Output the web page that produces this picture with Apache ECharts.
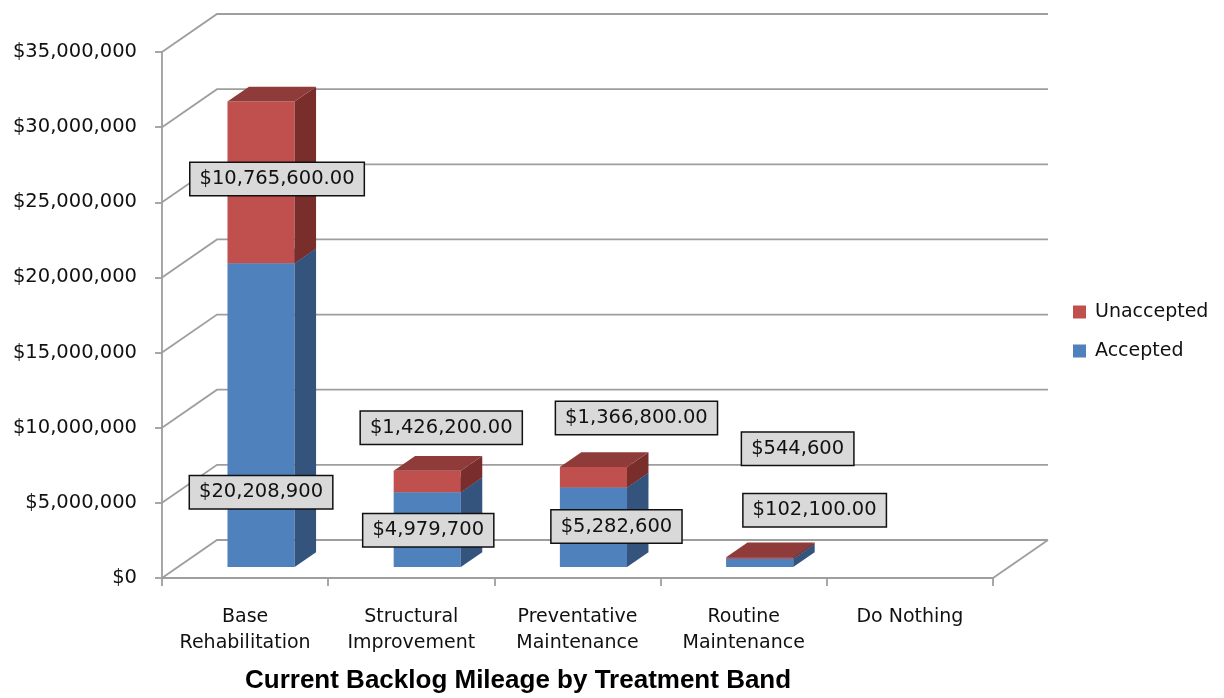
<!DOCTYPE html>
<html>
<head>
<meta charset="utf-8">
<script src="https://cdn.jsdelivr.net/npm/echarts@6/dist/echarts.min.js"></script>
<style>
  html, body { margin: 0; padding: 0; background: #ffffff; }
  #chart { width: 1224px; height: 698px; }
</style>
</head>
<body>
<div id="chart"></div>
<script>
// ---- data ----
const categories = ['Base\nRehabilitation', 'Structural\nImprovement', 'Preventative\nMaintenance', 'Routine\nMaintenance', 'Do Nothing'];
const accepted = [20208900, 4979700, 5282600, 544600, 0];
const unaccepted = [10765600, 1426200, 1366800, 102100, 0];
const yTicks = [0, 5000000, 10000000, 15000000, 20000000, 25000000, 30000000, 35000000];
const seriesNames = ['Unaccepted', 'Accepted'];
const chartTitle = 'Current Backlog Mileage by Treatment Band';

// ---- layout / style ----
const DEPTH = [55, -38];            // projection of the chart depth (px)
const BAR_FRONT = 0.29;             // bar front face position within depth
const BAR_BACK = 0.68;              // bar back face position within depth
const BAR_WIDTH = 0.404;            // bar width as share of category band
const acceptedLabelOffset = [[0, 229], [1, 38], [23, 39], [38, -110], null];
const unacceptedLabelOffset = [[16, 77.5], [14, -43], [43, -49], [55, -47], null];
const blue = { front: '#4F81BD', side: '#34547D', top: '#3E6699' };
const red = { front: '#C0504D', side: '#7A2E2C', top: '#8F3B39' };
const gridColor = '#9E9E9E';
const textColor = '#111111';
const textFont = '"DejaVu Sans", Verdana, sans-serif';

function withCommas(v) {
  return String(Math.round(v)).replace(/\B(?=(\d{3})+(?!\d))/g, ',');
}
const fmtWhole = v => '$' + withCommas(v);
const fmtCents = v => '$' + withCommas(v) + '.00';

function depthPoint(x, y, f) {
  return [x + DEPTH[0] * f, y + DEPTH[1] * f];
}

// back wall, side wall and floor lines
function renderGrid(params, api) {
  const v = api.value(1);
  const cs = params.coordSys;
  const y = api.coord([0, v])[1];
  const xl = cs.x, xr = cs.x + cs.width;
  const style = { stroke: gridColor, lineWidth: 1.8, fill: null };
  const children = [{
    type: 'polyline',
    shape: { points: [[xl, y], depthPoint(xl, y, 1), depthPoint(xr, y, 1)] },
    style: style
  }];
  if (v === yTicks[0]) {
    children.push({
      type: 'polyline',
      shape: { points: [[xr, y], depthPoint(xr, y, 1)] },
      style: style
    });
  }
  return { type: 'group', children: children };
}

function barRenderer(colors) {
  return function (params, api) {
    const c = api.value(0), lo = api.value(1), hi = api.value(2);
    if (!(hi > lo)) return;
    const band = api.size([1, 0])[0];
    const cx = api.coord([c, 0])[0];
    const w = band * BAR_WIDTH;
    const x0 = cx - w / 2, x1 = cx + w / 2;
    const yLo = api.coord([c, lo])[1], yHi = api.coord([c, hi])[1];
    const fTL = depthPoint(x0, yHi, BAR_FRONT), fTR = depthPoint(x1, yHi, BAR_FRONT);
    const fBL = depthPoint(x0, yLo, BAR_FRONT), fBR = depthPoint(x1, yLo, BAR_FRONT);
    const bTL = depthPoint(x0, yHi, BAR_BACK), bTR = depthPoint(x1, yHi, BAR_BACK);
    const bBR = depthPoint(x1, yLo, BAR_BACK);
    return {
      type: 'group',
      children: [
        { type: 'polygon', shape: { points: [fTL, fTR, fBR, fBL] }, style: { fill: colors.front } },
        { type: 'polygon', shape: { points: [fTR, bTR, bBR, fBR] }, style: { fill: colors.side } },
        { type: 'polygon', shape: { points: [fTL, bTL, bTR, fTR] }, style: { fill: colors.top } }
      ]
    };
  };
}

const acceptedData = categories.map((_, i) => [i, 0, accepted[i]]);
const unacceptedData = categories.map((_, i) => [i, accepted[i], accepted[i] + unaccepted[i]]);

const labelItems = [];
categories.forEach((_, i) => {
  if (accepted[i] > 0) {
    labelItems.push({ value: [i, accepted[i]], text: fmtWhole(accepted[i]), off: acceptedLabelOffset[i] });
  }
  if (unaccepted[i] > 0) {
    labelItems.push({ value: [i, accepted[i] + unaccepted[i]], text: fmtCents(unaccepted[i]), off: unacceptedLabelOffset[i] });
  }
});

function renderLabel(params, api) {
  const item = labelItems[params.dataIndex];
  const p = api.coord([api.value(0), api.value(1)]);
  const a = depthPoint(p[0], p[1], BAR_FRONT);
  const off = item.off || [0, 0];
  return {
    type: 'text',
    x: a[0] + off[0],
    y: a[1] + off[1],
    style: {
      text: item.text,
      font: '19.5px ' + textFont,
      fill: textColor,
      align: 'center',
      verticalAlign: 'middle',
      lineHeight: 21,
      backgroundColor: '#D9D9D9',
      borderColor: '#111111',
      borderWidth: 1.5,
      padding: [6, 9, 5, 9]
    }
  };
}

const chart = echarts.init(document.getElementById('chart'), null, { renderer: 'canvas' });
chart.setOption({
  backgroundColor: '#ffffff',
  animation: false,
  title: {
    text: chartTitle,
    left: 245,
    top: 667,
    padding: 0,
    textStyle: {
      fontFamily: '"Liberation Sans", Arial, sans-serif',
      fontWeight: 'bold',
      fontSize: 26,
      lineHeight: 28,
      color: '#000000'
    }
  },
  legend: {
    data: seriesNames,
    orient: 'vertical',
    left: 1073,
    top: 302,
    padding: 0,
    itemWidth: 13,
    itemHeight: 13,
    itemGap: 19,
    icon: 'rect',
    textStyle: {
      fontFamily: textFont,
      fontSize: 19,
      lineHeight: 20,
      color: textColor,
      padding: [0, 0, 0, 4]
    }
  },
  grid: { left: 162, right: 231, top: 52, bottom: 120, containLabel: false },
  xAxis: {
    type: 'category',
    data: categories,
    axisLine: { show: true, lineStyle: { color: gridColor, width: 1.8 } },
    axisTick: { show: true, length: 8, lineStyle: { color: gridColor, width: 1.8 } },
    axisLabel: {
      fontFamily: textFont,
      fontSize: 19,
      lineHeight: 26,
      color: textColor,
      margin: 26,
      interval: 0
    },
    splitLine: { show: false }
  },
  yAxis: {
    type: 'value',
    min: 0,
    max: 35000000,
    interval: 5000000,
    axisLine: { show: true, lineStyle: { color: gridColor, width: 1.8 } },
    axisTick: { show: true, length: 7, lineStyle: { color: gridColor, width: 1.8 } },
    axisLabel: {
      fontFamily: textFont,
      fontSize: 19.5,
      color: textColor,
      margin: 25,
      formatter: fmtWhole
    },
    splitLine: { show: false }
  },
  series: [
    {
      name: 'walls',
      type: 'custom',
      silent: true,
      z: 1,
      clip: false,
      renderItem: renderGrid,
      encode: { x: 0, y: 1 },
      data: yTicks.map(v => [0, v])
    },
    {
      name: 'Accepted',
      type: 'custom',
      z: 3,
      clip: false,
      itemStyle: { color: blue.front },
      renderItem: barRenderer(blue),
      encode: { x: 0, y: [1, 2] },
      data: acceptedData
    },
    {
      name: 'Unaccepted',
      type: 'custom',
      z: 4,
      clip: false,
      itemStyle: { color: red.front },
      renderItem: barRenderer(red),
      encode: { x: 0, y: [1, 2] },
      data: unacceptedData
    },
    {
      name: 'values',
      type: 'custom',
      silent: true,
      z: 10,
      clip: false,
      renderItem: renderLabel,
      encode: { x: 0, y: 1 },
      data: labelItems.map(d => d.value)
    }
  ]
});
</script>
</body>
</html>
